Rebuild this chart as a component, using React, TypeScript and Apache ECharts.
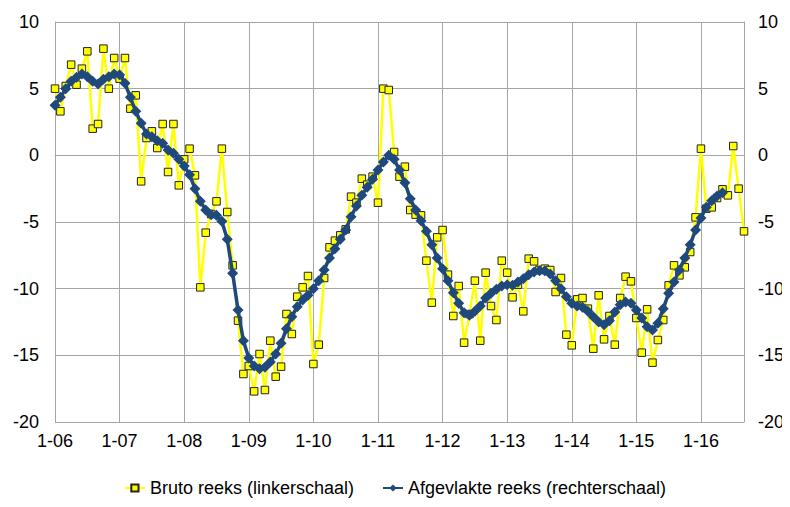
import React, { useEffect, useRef } from "react";
import * as echarts from "echarts";

// Monthly categories, January 2006 onwards (label "m-yy")
const startYear = 2006;
const monthCount = 129;
const categories: string[] = Array.from({ length: monthCount }, (_, i) => {
  const m = (i % 12) + 1;
  const y = (startYear + Math.floor(i / 12)) % 100;
  return `${m}-${String(y).padStart(2, "0")}`;
});

// Bruto reeks (linkerschaal)
const brutoReeks = [
  5.0, 3.3, 5.2, 6.8, 5.3, 6.5, 7.8, 2.0, 2.35, 8.0, 5.0, 7.3,
  5.75, 7.3, 3.5, 4.5, -1.95, 1.3, 1.8, 0.55, 2.35, -1.25, 2.35, -2.25,
  -0.3, 0.5, -1.5, -9.9, -5.8, -4.4, -3.45, 0.5, -4.25, -8.25, -12.4, -16.4,
  -15.8, -17.7, -14.9, -17.6, -13.9, -16.6, -15.85, -11.9, -13.4, -10.6, -9.9, -9.05,
  -15.65, -14.2, -9.2, -6.9, -6.4, -6.0, -5.55, -3.1, -3.55, -1.75, -2.2, -1.6,
  -3.55, 5.0, 4.9, 0.25, -1.6, -0.85, -4.1, -4.45, -4.5, -7.9, -11.05, -6.15,
  -5.6, -8.95, -12.05, -9.8, -14.05, -11.9, -9.4, -13.9, -8.8, -11.3, -12.35, -7.9,
  -8.8, -10.65, -9.7, -11.7, -7.75, -7.95, -8.6, -8.5, -8.6, -10.25, -9.2, -13.45,
  -14.25, -10.8, -10.7, -11.5, -14.5, -10.5, -13.8, -12.05, -14.2, -10.7, -9.1, -9.45,
  -12.2, -14.8, -11.55, -15.55, -13.85, -12.35, -9.75, -8.25, -9.0, -8.4, -7.25, -4.65,
  0.5, -4.0, -3.9, -3.2, -2.55, -3.0, 0.7, -2.5, -5.7,
];

// Afgevlakte reeks (rechterschaal)
const afgevlakteReeks = [
  3.75, 4.35, 5.0, 5.55, 5.85, 6.1, 5.9, 5.55, 5.35, 5.7, 5.9, 6.1,
  6.05, 5.4, 4.35, 3.3, 2.4, 1.6, 1.4, 1.1, 0.9, 0.4, 0.15, -0.3,
  -0.8, -1.45, -2.5, -3.45, -4.1, -4.45, -4.5, -4.95, -6.3, -8.85, -11.6, -13.9,
  -15.2, -15.8, -16.0, -15.9, -15.5, -14.9, -14.1, -13.0, -12.1, -11.35, -10.85, -10.5,
  -10.0, -9.4, -8.6, -7.7, -7.0, -6.3, -5.6, -4.6, -3.8, -3.0, -2.4, -1.8,
  -1.1, -0.5, 0.0, -0.3, -1.1, -2.05, -3.25, -4.1, -4.9, -5.7, -6.7, -7.7,
  -8.5, -9.4, -10.3, -11.1, -11.8, -12.0, -11.7, -11.3, -10.7, -10.35, -10.05, -9.8,
  -9.7, -9.75, -9.5, -9.25, -8.95, -8.75, -8.65, -8.65, -8.9, -9.4, -10.0, -10.6,
  -11.1, -11.3, -11.4, -11.7, -12.1, -12.5, -12.7, -12.4, -11.75, -11.2, -11.0, -11.1,
  -11.6, -12.2, -12.85, -13.1, -12.6, -11.5, -10.35, -9.5, -8.6, -7.7, -6.7, -5.6,
  -4.7, -3.9, -3.4, -3.05, -2.8,
];

const yMin = -20;
const yMax = 10;
const yStep = 5;

const FONT = "'Liberation Sans', Arial, sans-serif";
const FONT_SIZE = 18;
const GRID_COLOR = "#a6a6a6";

export default function App() {
  const ref = useRef<HTMLDivElement>(null);
  useEffect(() => {
    if (!ref.current) return;
    const chart = echarts.init(ref.current, undefined, { renderer: "svg" });
    const yAxisBase = {
      type: "value" as const,
      min: yMin,
      max: yMax,
      interval: yStep,
      axisTick: { show: false },
      axisLabel: { color: "#000", fontSize: FONT_SIZE, fontFamily: FONT },
      axisLine: { show: true, lineStyle: { color: GRID_COLOR, width: 1 } },
    };
    chart.setOption({
      animation: false,
      backgroundColor: "#fff",
      textStyle: { fontFamily: FONT },
      grid: { left: 55, right: 46, top: 22, bottom: 85, containLabel: false },
      legend: {
        bottom: 5,
        left: "center",
        itemGap: 28,
        itemWidth: 20,
        itemHeight: 9,
        textStyle: { color: "#000", fontSize: FONT_SIZE, fontFamily: FONT },
        data: ["Bruto reeks (linkerschaal)", "Afgevlakte reeks (rechterschaal)"],
      },
      xAxis: {
        type: "category",
        data: categories,
        boundaryGap: false,
        axisTick: { show: false },
        axisLine: { lineStyle: { color: GRID_COLOR, width: 1 } },
        axisLabel: {
          interval: (i: number) => i % 12 === 0,
          color: "#000",
          fontSize: FONT_SIZE,
          fontFamily: FONT,
          margin: 10,
        },
        splitLine: {
          show: true,
          interval: (i: number) => i % 12 === 0,
          lineStyle: { color: GRID_COLOR, width: 1 },
        },
      },
      yAxis: [
        {
          ...yAxisBase,
          position: "left",
          axisLabel: { ...yAxisBase.axisLabel, margin: 16 },
          splitLine: { show: true, lineStyle: { color: GRID_COLOR, width: 1 } },
        },
        {
          ...yAxisBase,
          position: "right",
          axisLabel: { ...yAxisBase.axisLabel, margin: 14 },
          splitLine: { show: false },
        },
      ],
      series: [
        {
          name: "Bruto reeks (linkerschaal)",
          type: "line",
          yAxisIndex: 0,
          data: brutoReeks,
          symbol: "rect",
          symbolSize: 7.5,
          showAllSymbol: true,
          lineStyle: { color: "#ffff00", width: 2.5 },
          itemStyle: { color: "#ffff00", borderColor: "#222", borderWidth: 1 },
          z: 2,
        },
        {
          name: "Afgevlakte reeks (rechterschaal)",
          type: "line",
          yAxisIndex: 1,
          data: afgevlakteReeks,
          symbol: "diamond",
          symbolSize: 11,
          showAllSymbol: true,
          lineStyle: { color: "#1f497d", width: 3.5 },
          itemStyle: { color: "#1f497d", borderWidth: 0 },
          z: 3,
        },
      ],
    });
    return () => chart.dispose();
  }, []);
  return <div ref={ref} style={{ width: 790, height: 507, marginLeft: -8, marginTop: -8 }} />;
}
